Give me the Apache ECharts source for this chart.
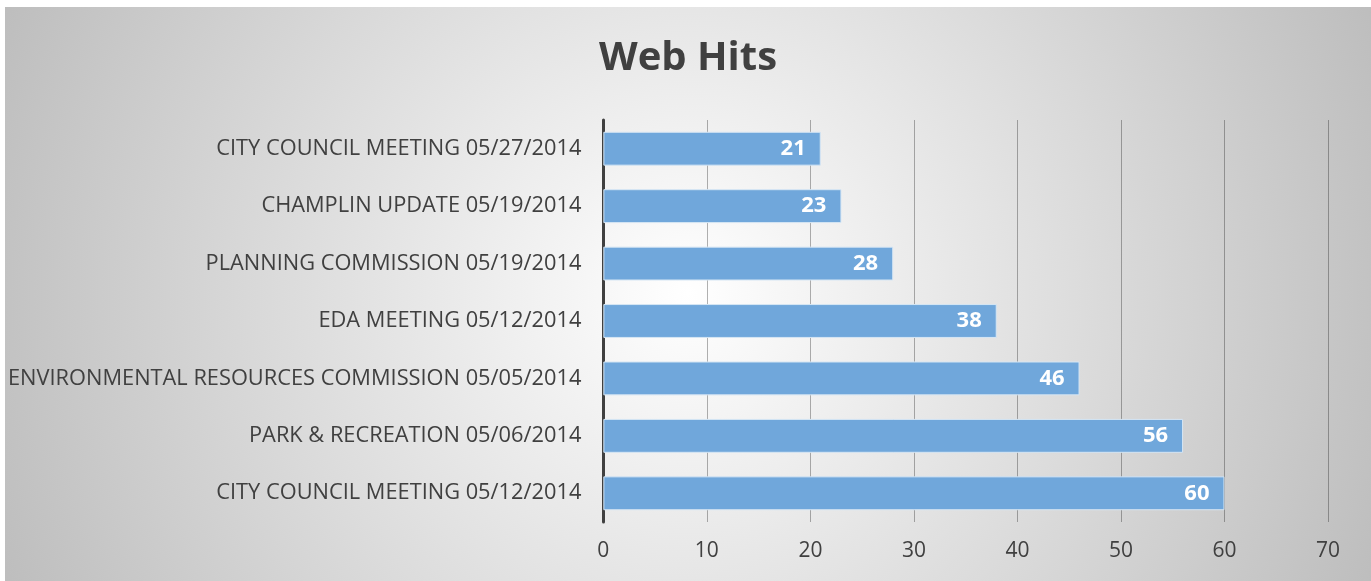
<!DOCTYPE html>
<html>
<head>
<meta charset="utf-8">
<script src="https://cdn.jsdelivr.net/npm/echarts@6/dist/echarts.min.js"></script>
<style>
    html, body { margin: 0; padding: 0; background: #ffffff; }
    #chart { position: absolute; left: 5px; top: 7px; width: 1366px; height: 574px; }
</style>
</head>
<body>
<div id="chart"></div>
<script>
// Data (top to bottom)
const categories = [
    'CITY COUNCIL MEETING 05/27/2014',
    'CHAMPLIN UPDATE 05/19/2014',
    'PLANNING COMMISSION 05/19/2014',
    'EDA MEETING 05/12/2014',
    'ENVIRONMENTAL RESOURCES COMMISSION 05/05/2014',
    'PARK & RECREATION 05/06/2014',
    'CITY COUNCIL MEETING 05/12/2014'
];
const hits = [21, 23, 28, 38, 46, 56, 60];

const chart = echarts.init(document.getElementById('chart'));
chart.setOption({
    backgroundColor: {
        type: 'radial', x: 0.5, y: 0.5, r: 1.3,
        colorStops: [
            { offset: 0, color: '#ffffff' },
            { offset: 1, color: '#bdbdbd' }
        ]
    },
    title: {
        text: 'Web Hits',
        left: 'center',
        top: 27,
        textStyle: { fontFamily: 'Open Sans', fontWeight: 'bold', fontSize: 40, color: '#404040' }
    },
    grid: { left: 598, right: 43, top: 113, bottom: 59 },
    xAxis: {
        type: 'value',
        min: 0, max: 70, interval: 10,
        axisLine: { show: false },
        axisTick: { show: false },
        axisLabel: { fontFamily: 'Open Sans', fontSize: 21, color: '#404040', margin: 19 },
        splitLine: { lineStyle: { color: 'rgba(0,0,0,0.3)', width: 1 } }
    },
    yAxis: {
        type: 'category',
        inverse: true,
        data: categories,
        axisLine: { lineStyle: { color: '#404040', width: 3 } },
        axisTick: { show: false },
        axisLabel: { fontFamily: 'Open Sans', fontSize: 21.8, color: '#404040', margin: 22 }
    },
    series: [{
        type: 'bar',
        data: hits,
        barWidth: '59%',
        itemStyle: { color: '#70a7db', borderColor: '#d6e6f4', borderWidth: 1 },
        label: {
            show: true,
            position: 'insideRight',
            distance: 15,
            fontFamily: 'Open Sans',
            fontWeight: 'bold',
            fontSize: 22,
            color: '#ffffff'
        }
    }]
});
</script>
</body>
</html>
